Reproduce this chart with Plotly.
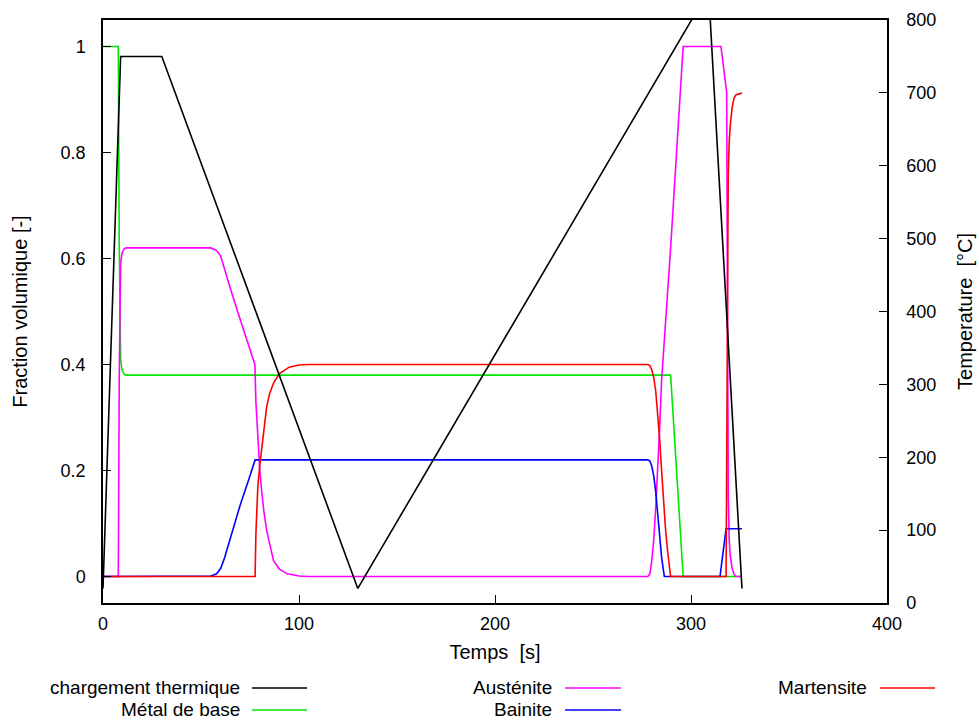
import plotly.graph_objects as go

# ---------------- data ----------------
t_temp = [0, 9, 30, 130, 309, 326]
temperature = [20, 750, 750, 20, 840, 20]

t_metal = [0, 7.8, 8.3, 8.6, 9.0, 9.5, 10.0, 11.0, 12.0, 289.6, 296.0, 326.0]
metal = [1.0, 1.0, 0.62, 0.45, 0.41, 0.395, 0.387, 0.381, 0.38, 0.38, 0.0, 0.0]

t_aust = [0, 7.8, 8.3, 8.6, 9.0, 9.5, 10.0, 11.0, 12.0, 55, 58, 60, 62, 65, 70, 75, 77.5,
          78, 79, 80, 81, 82, 83.5, 85, 87, 90, 94, 100, 105, 278, 279, 280, 281, 282, 283,
          284, 285, 286.7, 289.6, 296, 315.3, 318.2, 318.6, 319, 319.5, 320, 321, 322, 323, 326]
austenite = [0, 0, 0.38, 0.55, 0.59, 0.605, 0.613, 0.619, 0.62, 0.62, 0.615, 0.605, 0.58, 0.543,
             0.485, 0.43, 0.40, 0.33, 0.25, 0.20, 0.16, 0.125, 0.087, 0.06, 0.03, 0.014, 0.005,
             0.001, 0, 0, 0.005, 0.03, 0.07, 0.13, 0.20, 0.28, 0.37, 0.46, 0.62, 1.0, 1.0, 0.914,
             0.5, 0.15, 0.07, 0.04, 0.015, 0.004, 0, 0]

t_bain = [0, 50, 55, 58, 60, 62, 65, 70, 75, 77.6, 278, 279, 280, 281, 282, 283, 284, 285,
          286.4, 314.8, 317.9, 326]
bainite = [0, 0, 0.001, 0.005, 0.015, 0.035, 0.074, 0.135, 0.19, 0.22, 0.22, 0.218, 0.208, 0.19,
           0.16, 0.12, 0.08, 0.036, 0, 0, 0.09, 0.09]

t_mart = [0, 77.6, 78, 78.5, 79, 80, 81, 82, 83.5, 85, 87, 90, 95, 100, 105, 278, 279, 280, 281,
          282, 283, 284, 285, 286, 287, 288, 289, 289.6, 317.9, 318.2, 318.6, 319, 319.5, 320,
          321, 322, 323, 326]
martensite = [0, 0, 0.08, 0.14, 0.17, 0.21, 0.245, 0.28, 0.32, 0.345, 0.365, 0.383, 0.395, 0.399,
              0.40, 0.40, 0.398, 0.39, 0.375, 0.35, 0.31, 0.26, 0.20, 0.14, 0.09, 0.05, 0.02, 0,
              0, 0.3, 0.65, 0.76, 0.82, 0.85, 0.885, 0.903, 0.909, 0.912]

series_names = ["chargement thermique", "Métal de base", "Austénite", "Bainite", "Martensite"]
series_colors = ["#000000", "#00e600", "#ff00ff", "#0000ff", "#ff0000"]

x_ticks = [0, 100, 200, 300, 400]
y_ticks = [0, 0.2, 0.4, 0.6, 0.8, 1]
y_tick_labels = ["0", "0.2", "0.4", "0.6", "0.8", "1"]
y2_ticks = [0, 100, 200, 300, 400, 500, 600, 700, 800]

# ---------------- figure ----------------
FONT = "Liberation Sans, Arial, sans-serif"
FS_TICK = 18
FS_TITLE = 20
FS_LEG = 19
LW = 1.6

fig = go.Figure()
fig.add_trace(go.Scatter(x=t_temp, y=temperature, mode="lines", name=series_names[0],
                         line=dict(color=series_colors[0], width=LW), yaxis="y2"))
fig.add_trace(go.Scatter(x=t_metal, y=metal, mode="lines", name=series_names[1],
                         line=dict(color=series_colors[1], width=LW)))
fig.add_trace(go.Scatter(x=t_aust, y=austenite, mode="lines", name=series_names[2],
                         line=dict(color=series_colors[2], width=LW)))
fig.add_trace(go.Scatter(x=t_bain, y=bainite, mode="lines", name=series_names[3],
                         line=dict(color=series_colors[3], width=LW)))
fig.add_trace(go.Scatter(x=t_mart, y=martensite, mode="lines", name=series_names[4],
                         line=dict(color=series_colors[4], width=LW)))

L, R, T, B = 103, 92, 20, 117
W, H = 979, 720
pw, ph = W - L - R, H - T - B


def px2paper(px, py):
    return (px - L) / pw, (H - B - py) / ph


# gnuplot-style legend: text right-aligned, line sample to the right
legend_layout = [  # (series index, text right edge px, line start px, line end px, y px)
    (0, 241, 252, 307, 687),
    (1, 241, 252, 307, 709),
    (2, 553, 565, 621, 687),
    (3, 553, 565, 621, 709),
    (4, 868, 880, 935, 687),
]
annotations = []
shapes = []
for idx, tx, lx0, lx1, ly in legend_layout:
    ax, ay = px2paper(tx, ly)
    annotations.append(dict(x=ax, y=ay, xref="paper", yref="paper", text=series_names[idx],
                            showarrow=False, xanchor="right", yanchor="middle", borderpad=0,
                            font=dict(family=FONT, size=FS_LEG, color="#000")))
    x0, y0 = px2paper(lx0, ly + 1)
    x1, _ = px2paper(lx1, ly + 1)
    shapes.append(dict(type="line", xref="paper", yref="paper", x0=x0, x1=x1, y0=y0, y1=y0,
                       line=dict(color=series_colors[idx], width=LW)))

fig.update_layout(
    width=W, height=H,
    margin=dict(l=L, r=R, t=T, b=B, autoexpand=False),
    paper_bgcolor="white", plot_bgcolor="white",
    showlegend=False,
    font=dict(family=FONT, size=FS_TICK, color="#000"),
    xaxis=dict(range=[0, 400], tickvals=x_ticks, ticks="inside", ticklen=8, tickcolor="#000",
               showline=True, linecolor="#000", linewidth=1.5, mirror=True, showgrid=False,
               zeroline=False, tickfont=dict(size=FS_TICK), automargin=False,
               title=dict(text="Temps \u00a0[s]", standoff=12, font=dict(size=FS_TITLE)),
               ticklabelstandoff=4),
    yaxis=dict(range=[-0.05, 1.05], tickvals=y_ticks, ticktext=y_tick_labels, ticks="inside",
               ticklen=8, tickcolor="#000", showline=True, linecolor="#000", linewidth=1.5,
               showgrid=False, zeroline=False, ticklabelstandoff=12, tickfont=dict(size=FS_TICK),
               automargin=False,
               title=dict(text="Fraction volumique [-]", standoff=28, font=dict(size=FS_TITLE))),
    yaxis2=dict(range=[0, 800], tickvals=y2_ticks, ticks="inside", ticklen=8, tickcolor="#000",
                overlaying="y", side="right", showline=True, linecolor="#000", linewidth=1.5,
                showgrid=False, zeroline=False, ticklabelstandoff=14, tickfont=dict(size=FS_TICK),
                automargin=False,
                title=dict(text="Temperature \u00a0[°C]", standoff=23, font=dict(size=FS_TITLE))),
    annotations=annotations,
    shapes=shapes,
)

fig.write_html("out.html", config={"displayModeBar": False},
               post_script="document.body.style.margin='0';document.body.style.overflow='hidden';")
